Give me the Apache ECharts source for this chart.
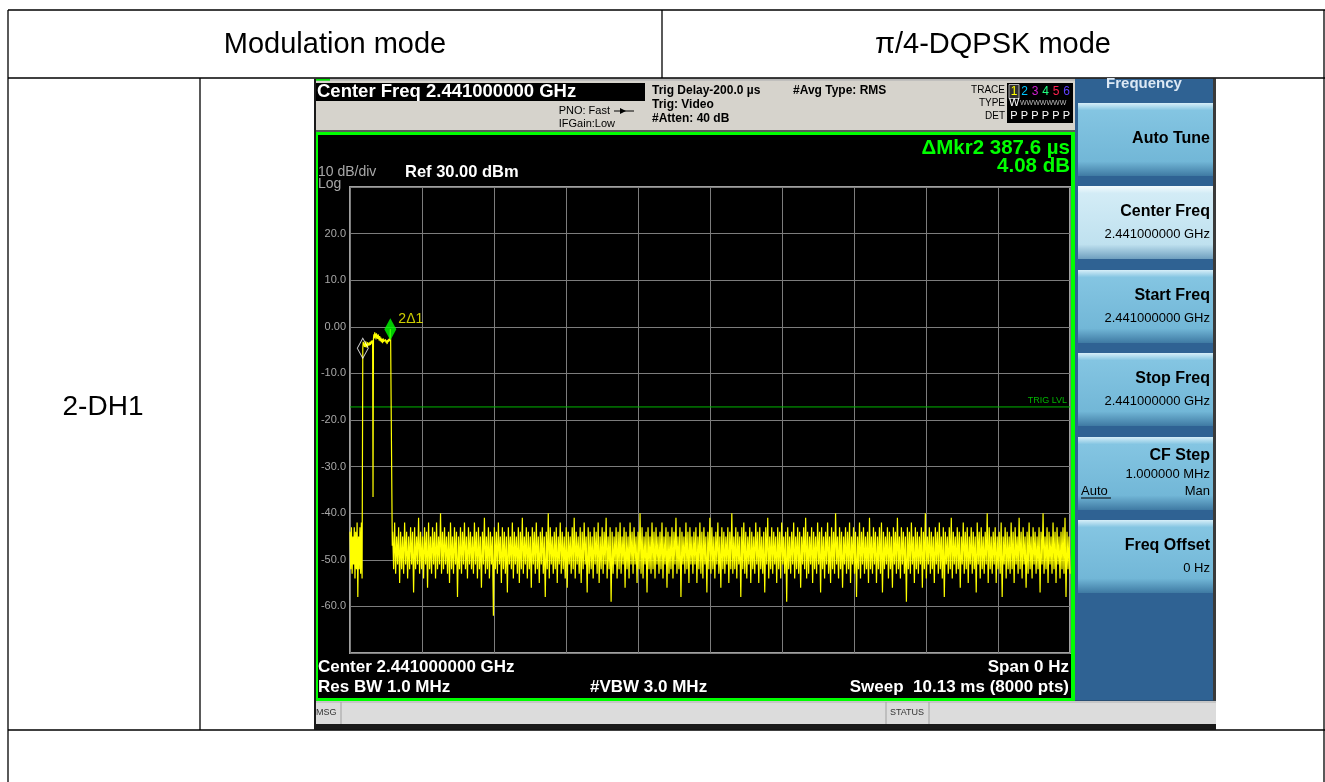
<!DOCTYPE html>
<html>
<head>
<meta charset="utf-8">
<script src="https://cdn.jsdelivr.net/npm/echarts@6/dist/echarts.min.js"></script>
<style>
html,body{margin:0;padding:0;background:#fff;}
#main{width:1325px;height:782px;}
</style>
</head>
<body>
<div id="main"></div>
<script>
// zero span sweep, x is time in us from sweep start (10.13 ms / 10 div)
var sweepUs = 10130;
var divUs = 1013;
var refDb = 30, bottomDb = -70, dbPerDiv = 10;

// noise before the burst
var preNoiseStepUs = 10;
var preNoiseDb = [-44,-52,-43,-53,-45,-51,-43,-54,-44,-52,-42,-58,-45,-52,-43,-53,-42,-54];

// the 2-DH1 burst
var burstUs = [180,186,192,198,204,210,216,222,228,234,240,246,252,258,264,270,276,282,288,294,300,306,312,318,324,330,336,342,348,354,360,366,372,378,384,390,396,402,410,418,426,434,442,450,458,466,474,482,490,498,506,514,522,530,538,546,554,562,567.6,572,578,590,595];
var burstDb = [-4.6,-3.2,-4.0,-3.4,-4.3,-3.6,-4.4,-3.1,-4.2,-3.7,-4.5,-3.3,-4.1,-3.8,-4.4,-3.4,-4.0,-3.2,-3.9,-3.5,-3.0,-3.6,-2.9,-3.4,-36.5,-2.6,-1.6,-2.5,-1.2,-2.3,-1.5,-2.7,-1.4,-2.4,-1.8,-2.6,-1.6,-2.2,-2.9,-2.0,-3.1,-2.3,-3.3,-2.6,-3.5,-2.5,-3.2,-2.8,-3.6,-2.7,-3.4,-2.9,-3.7,-2.8,-3.3,-2.6,-3.1,-2.5,-0.5,-3.0,-15,-15.3,-47];

// noise floor after the burst
var noiseStartUs = 600;
var noiseDb = [
-44,-52,-42,-53,-45,-51,-43,-55,-44,-52,-45,-53,-42,-51,-44,-54,-45,-52,-43,-51,
-44,-57,-43,-52,-45,-51,-41,-53,-44,-52,-45,-54,-43,-51,-44,-56,-42,-52,-45,-53,
-43,-51,-44,-54,-42,-52,-45,-51,-40,-53,-44,-52,-43,-51,-45,-53,-44,-55,-42,-52,
-45,-53,-43,-51,-44,-58,-45,-52,-43,-53,-44,-51,-42,-52,-45,-54,-43,-51,-44,-52,
-45,-53,-42,-51,-44,-54,-43,-52,-45,-56,-44,-51,-41,-53,-45,-52,-43,-54,-44,-51,
-45,-62,-43,-52,-44,-53,-42,-51,-45,-55,-43,-52,-44,-53,-45,-57,-43,-51,-45,-52,
-42,-54,-44,-51,-45,-53,-43,-55,-44,-52,-41,-53,-45,-51,-43,-54,-44,-52,-45,-56,
-43,-51,-44,-53,-42,-52,-45,-55,-44,-51,-43,-53,-45,-58,-44,-52,-40,-54,-43,-51,
-45,-53,-44,-52,-43,-55,-45,-51,-42,-53,-44,-52,-45,-54,-43,-56,-44,-51,-45,-53,
-43,-52,-41,-54,-44,-51,-45,-53,-43,-55,-44,-52,-42,-51,-45,-57,-43,-53,-44,-52,
-45,-54,-43,-51,-44,-53,-42,-55,-45,-52,-43,-53,-44,-51,-41,-54,-45,-52,-43,-59,
-44,-53,-45,-51,-43,-54,-44,-52,-42,-53,-45,-51,-43,-56,-44,-52,-45,-54,-42,-51,
-44,-53,-43,-51,-45,-55,-44,-52,-40,-53,-43,-54,-45,-51,-44,-57,-43,-52,-45,-53,
-42,-52,-44,-54,-43,-51,-45,-53,-44,-52,-42,-54,-45,-51,-43,-56,-44,-53,-45,-52,
-43,-54,-44,-51,-41,-53,-45,-52,-43,-58,-44,-51,-45,-53,-42,-52,-44,-55,-43,-51,
-45,-53,-44,-51,-43,-55,-45,-52,-42,-53,-44,-54,-43,-51,-45,-57,-44,-52,-41,-53,
-43,-52,-45,-54,-44,-51,-42,-53,-45,-56,-43,-52,-44,-53,-45,-51,-43,-55,-44,-52,
-40,-53,-45,-52,-43,-54,-44,-51,-45,-58,-43,-52,-42,-53,-44,-54,-45,-51,-43,-55,
-44,-52,-45,-53,-42,-51,-44,-55,-43,-52,-45,-53,-44,-57,-43,-51,-41,-54,-45,-52,
-43,-53,-44,-51,-45,-55,-43,-52,-44,-54,-42,-51,-45,-53,-44,-59,-43,-52,-45,-53,
-44,-51,-42,-54,-45,-52,-43,-53,-44,-56,-45,-51,-43,-52,-41,-54,-44,-53,-45,-51,
-43,-55,-44,-52,-45,-53,-42,-51,-44,-57,-43,-52,-45,-54,-44,-51,-42,-53,-45,-55,
-43,-52,-44,-53,-40,-51,-45,-54,-43,-52,-44,-56,-45,-51,-43,-53,-44,-52,-42,-55,
-45,-51,-43,-53,-44,-58,-45,-52,-42,-54,-44,-51,-43,-53,-45,-52,-44,-55,-41,-52,
-45,-53,-43,-51,-44,-55,-45,-52,-43,-53,-42,-57,-44,-52,-45,-51,-43,-54,-44,-52,
-45,-56,-43,-51,-44,-53,-41,-52,-45,-54,-43,-51,-44,-53,-45,-59,-43,-52,-44,-53,
-42,-51,-45,-55,-43,-52,-44,-53,-45,-51,-43,-56,-44,-52,-40,-54,-45,-51,-43,-53,
-44,-52,-45,-55,-43,-51,-44,-53,-42,-52,-45,-54,-43,-58,-44,-51,-45,-53,-43,-52,
-41,-54,-44,-51,-45,-53,-43,-52,-44,-56,-45,-51,-42,-53,-44,-52,-43,-55,-45,-51,
-43,-53,-44,-52,-45,-57,-42,-51,-44,-54,-43,-52,-45,-53,-44,-51,-40,-55,-43,-52,
-45,-53,-44,-51,-43,-55,-45,-52,-44,-53,-42,-58,-45,-51,-43,-54,-44,-52,-45,-53,
-42,-52,-44,-55,-43,-51,-45,-53,-41,-52,-44,-54,-43,-51,-45,-56,-44,-53,-42,-52,
-45,-54,-43,-51,-44,-53,-45,-52,-43,-57,-44,-51,-40,-53,-45,-52,-43,-55,-44,-51,
-45,-53,-42,-52,-44,-55,-43,-51,-45,-54,-44,-52,-43,-53,-41,-58,-44,-52,-45,-53
];

var markerUs = [180, 567.6];
var markerDb = [-4.6, -0.5];
var trigLvlDb = -17.2;

var trace = [];
preNoiseDb.forEach(function(v, i){ trace.push([i * preNoiseStepUs, v]); });
burstUs.forEach(function(t, i){ trace.push([t, burstDb[i]]); });
var noiseStep = (sweepUs - noiseStartUs) / (noiseDb.length - 1);
noiseDb.forEach(function(v, i){ trace.push([noiseStartUs + i * noiseStep, v]); });

var FF = '"Liberation Sans", Arial, sans-serif';
var g = [];
function rect(x, y, w, h, fill, z, stroke, lw) {
    g.push({type:'rect', z:z||1, silent:true, shape:{x:x, y:y, width:w, height:h},
        style:{fill:fill, stroke:stroke||null, lineWidth:lw||0}});
}
function line(x1, y1, x2, y2, color, w, z) {
    g.push({type:'line', z:z||5, silent:true, shape:{x1:x1, y1:y1, x2:x2, y2:y2},
        style:{stroke:color, lineWidth:w||1}});
}
function text(x, y, s, font, color, align, z) {
    g.push({type:'text', z:z||10, silent:true, x:x, y:y,
        style:{text:s, font:font, fill:color, textAlign:align||'left', textVerticalAlign:'middle',
               align:align||'left', verticalAlign:'middle'}});
}

// ---- table ----
var tc = '#000';
line(8, 10, 1325, 10, tc, 1.3);
line(8, 78, 1325, 78, tc, 1.3);
line(8, 730, 1325, 730, tc, 1.3);
line(8, 10, 8, 782, tc, 1.3);
line(1324, 10, 1324, 782, tc, 1.3);
line(662, 10, 662, 78, tc, 1.3);
line(200, 78, 200, 730, tc, 1.3);
text(335, 45, 'Modulation mode', '29px ' + FF, '#000', 'center');
text(993, 45, 'π/4-DQPSK mode', '29px ' + FF, '#000', 'center');
text(103, 407, '2-DH1', '28px ' + FF, '#000', 'center');

// ---- analyzer screenshot frame ----
rect(314, 78.7, 902, 651, '#1a1a1a', -20);
rect(316, 80, 759, 51, '#d6d3cc', -15);
rect(316, 78.7, 759, 2, '#b8b8b8', -14);
rect(316, 78.7, 14, 2, '#00e000', -13);
rect(316, 130, 759, 2, '#5a5a5a', -14);
// header
rect(316, 83, 329, 18, '#000', -12);
text(317, 92, 'Center Freq 2.441000000 GHz', 'bold 18.5px ' + FF, '#fff', 'left');
text(610, 111, 'PNO: Fast', '11px ' + FF, '#000', 'right');
line(614, 111, 634, 111, '#000', 1);
g.push({type:'polygon', z:6, silent:true, shape:{points:[[620,108],[626,111],[620,114]]}, style:{fill:'#000'}});
text(615, 124, 'IFGain:Low', '11px ' + FF, '#000', 'right');
text(652, 91, 'Trig Delay-200.0 µs', 'bold 12px ' + FF, '#000', 'left');
text(652, 105, 'Trig: Video', 'bold 12px ' + FF, '#000', 'left');
text(652, 119, '#Atten: 40 dB', 'bold 12px ' + FF, '#000', 'left');
text(793, 91, '#Avg Type: RMS', 'bold 12px ' + FF, '#000', 'left');
text(1005, 90, 'TRACE', '10px ' + FF, '#000', 'right');
text(1005, 103, 'TYPE', '10px ' + FF, '#000', 'right');
text(1005, 116, 'DET', '10px ' + FF, '#000', 'right');
rect(1007, 83, 66, 40, '#000', -12);
rect(1009, 84.5, 10, 14, '#303030', -11, '#b0b0b0', 1);
var trColors = ['#ffff00', '#00c8ff', '#d020d0', '#20ff80', '#ff2050', '#6040ff'];
for (var k = 0; k < 6; k++) {
    text(1014 + k * 10.5, 92, String(k + 1), '12px ' + FF, trColors[k], 'center');
    text(1014 + k * 10.5, 116, 'P', '11px ' + FF, '#fff', 'center');
}
text(1009, 103, 'W', '11px ' + FF, '#fff', 'left');
text(1020, 103, 'WWWWWWW', '7px ' + FF, '#bbb', 'left');

// plot area
rect(316, 132, 759, 569, '#00ff00', -12);
rect(318, 135, 753, 563, '#000', -11);
text(1070, 148, 'ΔMkr2 387.6 µs', 'bold 20.5px ' + FF, '#00ff00', 'right');
text(1070, 166, '4.08 dB', 'bold 20.5px ' + FF, '#00ff00', 'right');
text(318, 172, '10 dB/div', '14px ' + FF, '#a8a8a8', 'left');
text(318, 184, 'Log', '14px ' + FF, '#a8a8a8', 'left');
text(405, 172, 'Ref 30.00 dBm', 'bold 16.5px ' + FF, '#fff', 'left');
text(1067, 401, 'TRIG LVL', '9px ' + FF, '#00b400', 'right');
text(318, 667, 'Center 2.441000000 GHz', 'bold 17px ' + FF, '#fff', 'left');
text(318, 687, 'Res BW 1.0 MHz', 'bold 17px ' + FF, '#fff', 'left');
text(590, 687, '#VBW 3.0 MHz', 'bold 17px ' + FF, '#fff', 'left');
text(1069, 667, 'Span 0 Hz', 'bold 17px ' + FF, '#fff', 'right');
text(1069, 687, 'Sweep  10.13 ms (8000 pts)', 'bold 17px ' + FF, '#fff', 'right');

// status bar
rect(316, 701, 900, 23, '#dcdcdc', -12);
line(316, 702, 1216, 702, '#b0b0b0', 1);
line(341, 702, 341, 724, '#a0a0a0', 1);
line(886, 702, 886, 724, '#a0a0a0', 1);
line(929, 702, 929, 724, '#a0a0a0', 1);
text(316, 713, 'MSG', '9px ' + FF, '#333', 'left');
text(907, 713, 'STATUS', '9px ' + FF, '#333', 'center');

// soft key panel
rect(1075, 78.7, 141, 622, '#2f6293', -12);
rect(1213, 78.7, 3, 622, '#3a3a3a', -11);
text(1144, 84, 'Frequency', 'bold 15px ' + FF, '#dce8f4', 'center');
var keys = [
    {y:103, t:'Auto Tune'},
    {y:186, t:'Center Freq', s:'2.441000000 GHz', sel:true},
    {y:270, t:'Start Freq', s:'2.441000000 GHz'},
    {y:353, t:'Stop Freq', s:'2.441000000 GHz'},
    {y:437, t:'CF Step', s:'1.000000 MHz', auto:true},
    {y:520, t:'Freq Offset', s:'0 Hz'}
];
keys.forEach(function(b){
    var stops = b.sel ?
        [{offset:0, color:'#f4fbfe'}, {offset:0.1, color:'#d3ecf6'}, {offset:0.8, color:'#bfe1ef'}, {offset:1, color:'#6f9fbf'}] :
        [{offset:0, color:'#d6eef8'}, {offset:0.1, color:'#84c5e2'}, {offset:0.8, color:'#72b7d7'}, {offset:1, color:'#3f7aa3'}];
    g.push({type:'rect', z:2, silent:true, shape:{x:1078, y:b.y, width:135, height:73},
        style:{fill:{type:'linear', x:0, y:0, x2:0, y2:1, colorStops:stops}}});
    if (b.auto) {
        text(1210, b.y + 19, b.t, 'bold 16px ' + FF, '#000', 'right');
        text(1210, b.y + 37, b.s, '13px ' + FF, '#000', 'right');
        text(1081, b.y + 54, 'Auto', '13px ' + FF, '#000', 'left');
        line(1081, b.y + 61, 1111, b.y + 61, '#000', 1, 11);
        text(1210, b.y + 54, 'Man', '13px ' + FF, '#000', 'right');
    } else if (b.s) {
        text(1210, b.y + 26, b.t, 'bold 16px ' + FF, '#000', 'right');
        text(1210, b.y + 48, b.s, '13px ' + FF, '#000', 'right');
    } else {
        text(1210, b.y + 36, b.t, 'bold 16px ' + FF, '#000', 'right');
    }
});

var chart = echarts.init(document.getElementById('main'));
chart.setOption({
    backgroundColor: '#fff',
    animation: false,
    grid: {left:350, top:187, width:720, height:466, show:true, borderColor:'#a0a0a0', borderWidth:2, backgroundColor:'transparent'},
    xAxis: {
        type:'value', min:0, max:sweepUs, interval:divUs,
        axisLine:{show:false}, axisTick:{show:false}, axisLabel:{show:false},
        splitLine:{show:true, lineStyle:{color:'#7c7c7c', width:1}}
    },
    yAxis: {
        type:'value', min:bottomDb, max:refDb, interval:dbPerDiv,
        axisLine:{show:false}, axisTick:{show:false},
        axisLabel:{color:'#a8a8a8', fontSize:11, fontFamily:'Liberation Sans', margin:4,
            formatter:function(v){ if (v >= refDb || v <= bottomDb) return ''; return v === 0 ? '0.00' : v.toFixed(1); }},
        splitLine:{show:true, lineStyle:{color:'#7c7c7c', width:1}}
    },
    series: [
        {
            // trigger level
            type:'line', data:[[0, trigLvlDb], [sweepUs, trigLvlDb]], showSymbol:false, symbol:'none',
            lineStyle:{color:'#00b400', width:1}, z:2, silent:true
        },
        {
            type:'line', data:trace, showSymbol:false, symbol:'none',
            lineStyle:{color:'#ffff00', width:1.2}, z:3
        },
        {
            type:'scatter', z:5,
            data:[
                {value:[markerUs[0], markerDb[0]], symbol:'diamond', symbolSize:[11, 20],
                 itemStyle:{color:'rgba(0,0,0,0)', borderColor:'#ffffff', borderWidth:1}},
                {value:[markerUs[1], markerDb[1]], symbol:'diamond', symbolSize:[12, 22],
                 itemStyle:{color:'#00ff00'},
                 label:{show:true, formatter:'2Δ1', position:'right', offset:[-3, -10], color:'#ffff00', fontSize:14, fontFamily:'Liberation Sans'}}
            ]
        }
    ],
    graphic: g
});
</script>
</body>
</html>
